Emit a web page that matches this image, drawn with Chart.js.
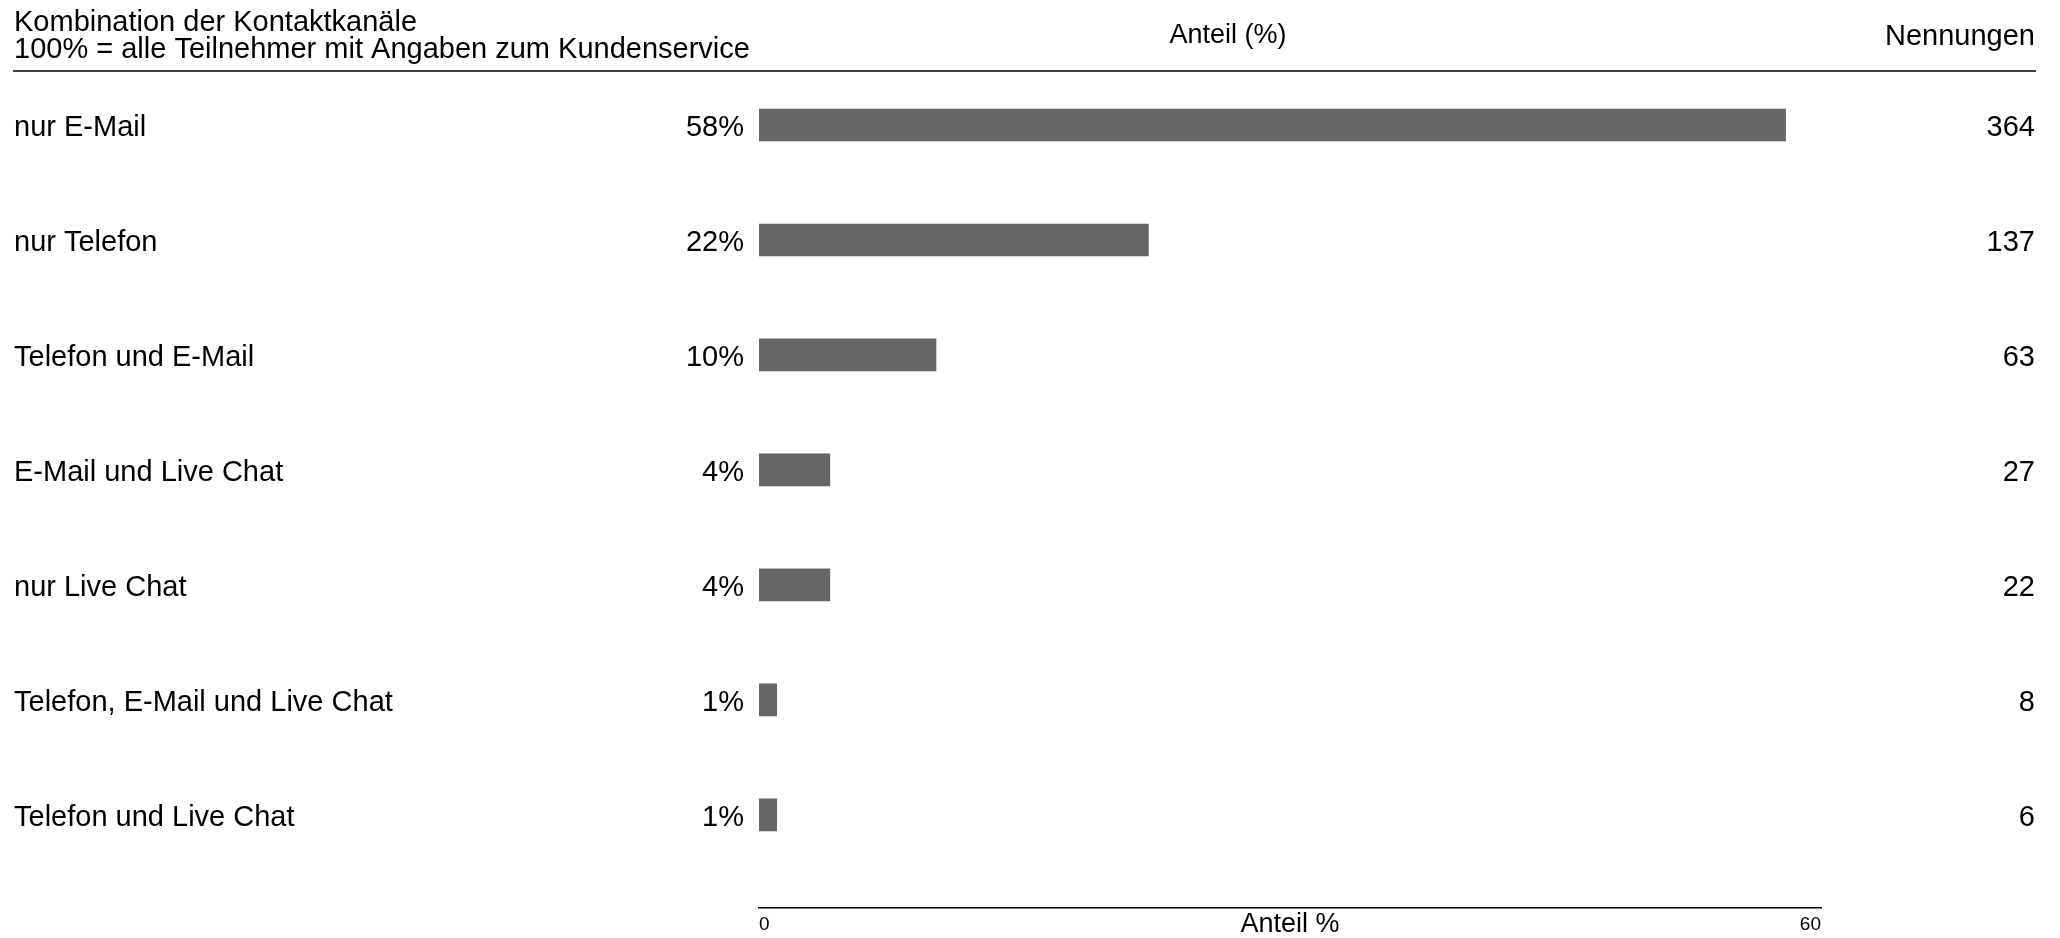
<!DOCTYPE html>
<html>
<head>
<meta charset="utf-8">
<script src="https://cdn.jsdelivr.net/npm/chart.js@4/dist/chart.umd.min.js"></script>
<style>
  html, body { margin: 0; padding: 0; background: #fff; }
  #wrap { width: 2060px; height: 938px; }
</style>
</head>
<body>
<div id="wrap"><canvas id="kanalChart" width="2060" height="938"></canvas></div>
<script>
const kanaele = [
    'nur E-Mail',
    'nur Telefon',
    'Telefon und E-Mail',
    'E-Mail und Live Chat',
    'nur Live Chat',
    'Telefon, E-Mail und Live Chat',
    'Telefon und Live Chat'
];
const anteile = [58, 22, 10, 4, 4, 1, 1];
const nennungen = [364, 137, 63, 27, 22, 8, 6];
const xTicks = [0, 60];

const titelZeilen = ['Kombination der Kontaktkanäle', '100% = alle Teilnehmer mit Angaben zum Kundenservice'];
const spalteAnteil = 'Anteil (%)';
const spalteNennungen = 'Nennungen';
const achsenTitel = 'Anteil %';

const schrift = "'Liberation Sans', Arial, sans-serif";
Chart.defaults.font.family = schrift;
Chart.defaults.color = '#000';

// header row, value labels and counts next to the bars
const beschriftung = {
    id: 'beschriftung',
    afterDraw(chart) {
        const ctx = chart.ctx;
        const area = chart.chartArea;
        const yScale = chart.scales.y;
        ctx.save();
        ctx.fillStyle = '#000';
        ctx.textBaseline = 'middle';

        ctx.font = '29px ' + schrift;
        ctx.textAlign = 'left';
        ctx.fillText(titelZeilen[0], 14, 23);
        ctx.fillText(titelZeilen[1], 14, 50);
        ctx.textAlign = 'right';
        ctx.fillText(spalteNennungen, chart.width - 25, 37);
        ctx.font = '27px ' + schrift;
        ctx.textAlign = 'center';
        ctx.fillText(spalteAnteil, 1228, 36);

        ctx.strokeStyle = '#000';
        ctx.lineWidth = 1.5;
        ctx.beginPath();
        ctx.moveTo(13, 71);
        ctx.lineTo(chart.width - 24, 71);
        ctx.stroke();

        ctx.font = '29px ' + schrift;
        ctx.textAlign = 'right';
        anteile.forEach((v, i) => {
            const y = yScale.getPixelForValue(i) + 3;
            ctx.fillText(v + '%', area.left - 15, y);
            ctx.fillText(String(nennungen[i]), chart.width - 25, y);
        });
        ctx.restore();
    }
};

const data = {
    datasets: [{
        label: 'Anteil',
        data: anteile.map((v, i) => ({ x: v, y: i })),
        backgroundColor: '#666666',
        borderWidth: 0,
        barThickness: 32
    }]
};

const config = {
    type: 'bar',
    data: data,
    options: {
        indexAxis: 'y',
        responsive: false,
        animation: false,
        layout: { padding: { left: 14, right: 239, top: 67.5, bottom: 0 } },
        plugins: {
            legend: { display: false },
            tooltip: { enabled: false }
        },
        scales: {
            y: {
                type: 'linear',
                reverse: true,
                offset: false,
                min: -0.5,
                max: 6.81,
                grid: { display: false, drawTicks: false },
                border: { display: false },
                afterBuildTicks: (scale) => {
                    scale.ticks = kanaele.map((k, i) => ({ value: i }));
                },
                afterFit: (scale) => { scale.width = 745; },
                ticks: {
                    crossAlign: 'far',
                    labelOffset: 3,
                    font: { size: 29 },
                    callback: (value) => kanaele[value]
                }
            },
            x: {
                type: 'linear',
                min: 0,
                max: 60,
                grid: { display: false, drawTicks: false },
                border: { display: true, color: '#000', width: 1.5 },
                afterBuildTicks: (scale) => {
                    scale.ticks = xTicks.map(v => ({ value: v }));
                },
                afterFit: (scale) => { scale.height = 30; },
                ticks: {
                    padding: 5,
                    align: 'inner',
                    font: { size: 19 },
                    maxRotation: 0
                },
                title: {
                    display: true,
                    text: achsenTitel,
                    font: { size: 27, lineHeight: 1 },
                    padding: 0
                }
            }
        }
    },
    plugins: [beschriftung]
};

const kanalChart = new Chart(document.getElementById('kanalChart'), config);
</script>
</body>
</html>
